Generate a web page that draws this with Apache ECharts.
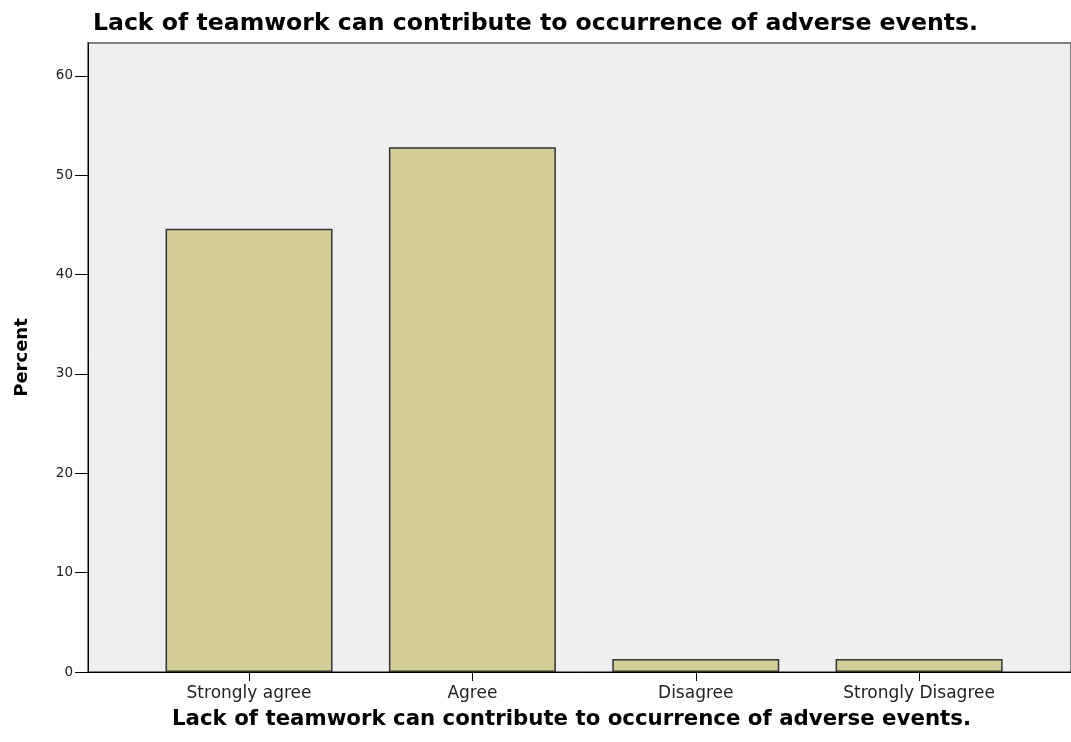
<!DOCTYPE html>
<html>
<head>
<meta charset="utf-8">
<script src="https://cdn.jsdelivr.net/npm/echarts@6/dist/echarts.min.js"></script>
<style>html,body{margin:0;padding:0;background:#fff}#c{width:1071px;height:742px}</style>
</head>
<body>
<div id="c"></div>
<script>
var titleText = 'Lack of teamwork can contribute to occurrence of adverse events.';
var categories = ['Strongly agree', 'Agree', 'Disagree', 'Strongly Disagree'];
var percents = [44.6, 52.8, 1.3, 1.3];
var yTicks = [0, 10, 20, 30, 40, 50, 60];

var chart = echarts.init(document.getElementById('c'), null, {renderer: 'canvas'});
var positions = categories.map(function (c, i) { return i; });
var barData = percents.map(function (v, i) { return [positions[i], v]; });

chart.setOption({
  animation: false,
  title: {
    text: titleText,
    left: 'center',
    top: 7,
    textStyle: {fontFamily: 'DejaVu Sans, Verdana, sans-serif', fontWeight: 'bold', fontSize: 23.6, color: '#000'}
  },
  grid: {
    left: 88, right: 0, top: 43, bottom: 70,
    show: true, backgroundColor: '#efefef', borderColor: '#808080', borderWidth: 2
  },
  xAxis: {
    type: 'value',
    min: -0.721, max: 3.68,
    splitLine: {show: false},
    axisLine: {show: true, onZero: false, lineStyle: {color: '#000', width: 1}},
    axisTick: {show: true, length: 9, lineStyle: {color: '#000'}, customValues: positions},
    axisLabel: {
      customValues: positions,
      formatter: function (v) { return categories[Math.round(v)]; },
      fontFamily: 'DejaVu Sans, Verdana, sans-serif', fontSize: 17, color: '#222', margin: 13
    },
    name: titleText,
    nameLocation: 'middle',
    nameGap: 37,
    nameTextStyle: {fontFamily: 'DejaVu Sans, Verdana, sans-serif', fontWeight: 'bold', fontSize: 21.3, color: '#000', padding: [0, 16, 0, 0]}
  },
  yAxis: {
    type: 'value',
    min: 0, max: 63.3,
    interval: 10,
    splitLine: {show: false},
    axisLine: {show: true, onZero: false, lineStyle: {color: '#000', width: 1}},
    axisTick: {show: true, length: 13, lineStyle: {color: '#000'}, customValues: yTicks},
    axisLabel: {customValues: yTicks, fontFamily: 'DejaVu Sans, Verdana, sans-serif', fontSize: 13.5, color: '#222', margin: 15},
    name: 'Percent',
    nameLocation: 'middle',
    nameGap: 57,
    nameTextStyle: {fontFamily: 'DejaVu Sans, Verdana, sans-serif', fontWeight: 'bold', fontSize: 18, color: '#000'}
  },
  series: [{
    type: 'bar',
    data: barData,
    barWidth: 167,
    itemStyle: {color: '#d3ce97', borderColor: '#333', borderWidth: 1.5}
  }]
});
</script>
</body>
</html>
